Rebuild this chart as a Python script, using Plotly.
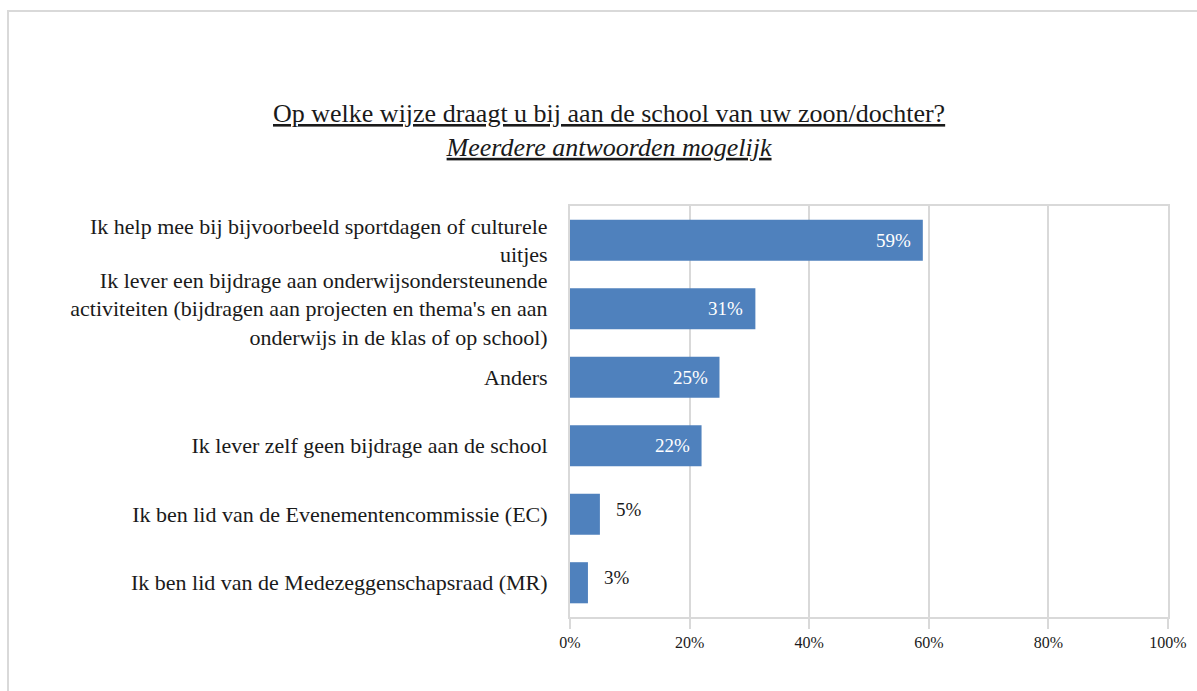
import plotly.graph_objects as go

# Survey answers (top to bottom) and share of respondents in percent
categories = [
    "Ik help mee bij bijvoorbeeld sportdagen of culturele<br>uitjes",
    "Ik lever een bijdrage aan onderwijsondersteunende<br>activiteiten (bijdragen aan projecten en thema's en aan<br>onderwijs in de klas of op school)",
    "Anders",
    "Ik lever zelf geen bijdrage aan de school",
    "Ik ben lid van de Evenementencommissie (EC)",
    "Ik ben lid van de Medezeggenschapsraad (MR)",
]
values = [59, 31, 25, 22, 5, 3]
tick_values = [0, 20, 40, 60, 80, 100]
tick_labels = ["0%", "20%", "40%", "60%", "80%", "100%"]

title_text = ("<u>Op welke wijze draagt u bij aan de school van uw zoon/dochter?</u><br>"
              "<i><u>Meerdere antwoorden mogelijk</u></i>")

W, H = 1197, 691
ML, MR, MT, MB = 570, 29, 206, 74
PLOT_H = H - MT - MB
FONT = "'Liberation Serif', 'Times New Roman', Times, serif"
BAR = "#4f81bd"
GRID = "#d9d9d9"
TEXT = "#1a1a1a"


def paper_y(px):
    """Pixel row (from the top of the figure) to paper y."""
    return (H - MB - px) / PLOT_H


fig = go.Figure()
fig.add_trace(go.Bar(
    x=values,
    y=categories,
    orientation="h",
    marker=dict(color=BAR, line=dict(width=0)),
    hoverinfo="skip",
))

# Value labels: inside the bar end for long bars, just past it for short ones
annotations = []
for cat, v in zip(categories, values):
    inside = v >= 15
    annotations.append(dict(
        x=v, y=cat, xref="x", yref="y",
        text=f"{v}%",
        showarrow=False,
        xanchor="right" if inside else "left",
        xshift=-10 if inside else 14,
        yshift=0 if inside else 5,
        font=dict(family=FONT, size=19, color="white" if inside else TEXT),
    ))

# Two-line title, centred over the chart
annotations.append(dict(
    x=(609 - ML) / (W - ML - MR), y=paper_y(130), xref="paper", yref="paper",
    xanchor="center", yanchor="middle", showarrow=False,
    text=title_text,
    font=dict(family=FONT, size=26, color=TEXT),
))

fig.update_layout(
    width=W, height=H,
    margin=dict(l=ML, r=MR, t=MT, b=MB, autoexpand=False),
    paper_bgcolor="white",
    plot_bgcolor="white",
    bargap=0.4,
    showlegend=False,
    font=dict(family=FONT, color=TEXT),
    xaxis=dict(
        range=[0, 100],
        tickvals=tick_values,
        ticktext=tick_labels,
        showgrid=True, gridcolor=GRID, gridwidth=2,
        showline=True, linecolor=GRID, linewidth=2, mirror=True,
        ticks="outside", ticklen=10, tickcolor=GRID, tickwidth=2,
        tickfont=dict(family=FONT, size=16, color=TEXT),
        zeroline=False,
        fixedrange=True,
    ),
    yaxis=dict(
        autorange="reversed",
        showgrid=False, zeroline=False,
        showline=True, linecolor=GRID, linewidth=2, mirror=True,
        ticks="", ticklabelstandoff=16,
        tickfont=dict(family=FONT, size=22, color=TEXT),
        fixedrange=True,
    ),
    annotations=annotations,
)

# Light chart frame around the whole figure
fig.add_shape(
    type="rect", xref="paper", yref="paper",
    x0=(8 - ML) / (W - ML - MR), x1=(W + 20 - ML) / (W - ML - MR),
    y0=-(MB + 20) / PLOT_H, y1=paper_y(11),
    line=dict(color=GRID, width=2), fillcolor="rgba(0,0,0,0)",
    layer="below",
)

fig.write_html("out.html")
